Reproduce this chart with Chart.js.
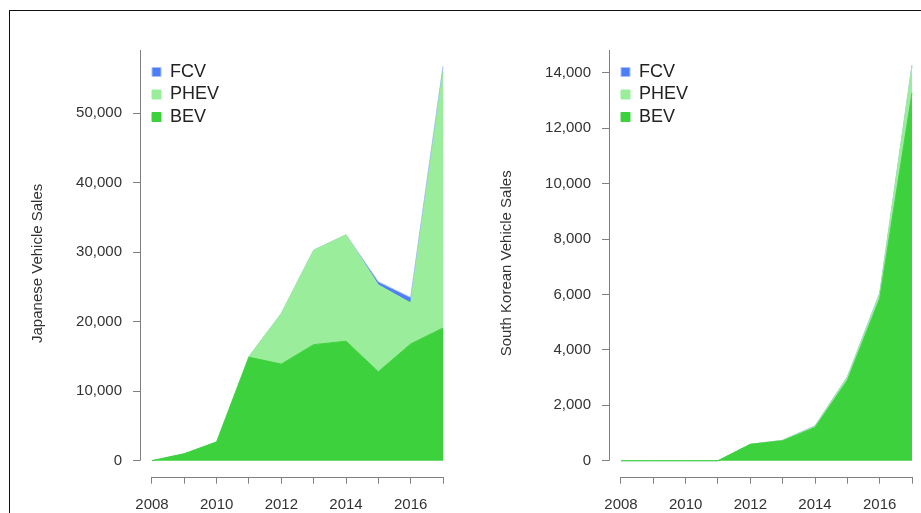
<!DOCTYPE html>
<html>
<head>
<meta charset="utf-8">
<script src="https://cdn.jsdelivr.net/npm/chart.js@4.4.0/dist/chart.umd.min.js"></script>
<style>
  html, body { margin: 0; padding: 0; background: #fff; overflow: hidden; }
  #wrap { position: relative; width: 921px; height: 513px; overflow: hidden; }
  #frame { position: absolute; left: 9px; top: 10px; width: 1000px; height: 600px;
           border-left: 1px solid #111; border-top: 1px solid #111; }
  canvas { position: absolute; top: 0; }
  #jp { left: 0; }
  #kr { left: 469px; }
</style>
</head>
<body>
<div id="wrap">
  <div id="frame"></div>
  <canvas id="jp" width="460" height="513"></canvas>
  <canvas id="kr" width="460" height="513"></canvas>
</div>
<script>
// data
var years = [2008, 2009, 2010, 2011, 2012, 2013, 2014, 2015, 2016, 2017];

var jpBEV  = [0, 1000, 2700, 14900, 13900, 16700, 17200, 12800, 16800, 19100];
var jpPHEV = [0, 0, 0, 100, 7300, 13600, 15300, 12500, 5900, 36800];
var jpFCV  = [0, 0, 0, 0, 0, 0, 10, 450, 800, 850];

var krBEV  = [0, 0, 0, 0, 590, 720, 1200, 2900, 5850, 13270];
var krPHEV = [0, 0, 0, 0, 0, 10, 40, 100, 150, 950];
var krFCV  = [0, 0, 0, 0, 0, 10, 20, 30, 50, 60];

var jpTicks = [0, 10000, 20000, 30000, 40000, 50000];
var krTicks = [0, 2000, 4000, 6000, 8000, 10000, 12000, 14000];

var FONT = "'Liberation Sans', Arial, sans-serif";
var AXIS = '#808080';

function pts(arr) {
	return years.map(function (yr, i) { return { x: yr, y: arr[i] }; });
}

// axis lines the way R draws them: y from top down to 0, x from first to last year
var axisLines = {
	id: 'axisLines',
	afterLayout: function (chart) {
		// the chartArea legend sits at top 0, push it into the plot corner
		var lg = chart.legend;
		lg.left += 7.5; lg.right += 7.5;
		lg.top += 58.5; lg.bottom += 58.5;
	},
	afterDraw: function (chart) {
		var ctx = chart.ctx, area = chart.chartArea;
		var xs = chart.scales.x, ys = chart.scales.y;
		var xl = Math.round(area.left) + 0.5;
		var yb = Math.round(area.bottom) + 0.5;
		ctx.save();
		ctx.strokeStyle = AXIS;
		ctx.lineWidth = 1;
		ctx.beginPath();
		ctx.moveTo(xl, area.top);
		ctx.lineTo(xl, ys.getPixelForValue(0));
		ctx.moveTo(xs.getPixelForValue(years[0]), yb);
		ctx.lineTo(xs.getPixelForValue(years[years.length - 1]), yb);
		ctx.stroke();
		ctx.restore();
	}
};

function makeChart(id, title, bev, phev, fcv, ticks, ymin, ymax) {
	return new Chart(document.getElementById(id), {
		type: 'line',
		data: {
			datasets: [
				{ label: 'BEV', data: pts(bev), fill: 'origin',
				  backgroundColor: '#3ed13e', borderColor: '#3ed13e', borderWidth: 1 },
				{ label: 'PHEV', data: pts(phev), fill: '-1',
				  backgroundColor: '#9aed9a', borderColor: '#9aed9a', borderWidth: 1 },
				{ label: 'FCV', data: pts(fcv), fill: '-1',
				  backgroundColor: '#4d7ef7', borderColor: '#a9c2f7', borderWidth: 1 }
			]
		},
		options: {
			responsive: false,
			animation: false,
			elements: { point: { radius: 0 }, line: { tension: 0 } },
			layout: { padding: { top: 50, right: 5, left: 0, bottom: 0 } },
			plugins: {
				tooltip: { enabled: false },
				legend: {
					position: 'chartArea',
					align: 'start',
					reverse: true,
					labels: {
						boxWidth: 9, boxHeight: 9, padding: 4.5,
						color: '#222',
						font: { family: FONT, size: 18 }
					}
				}
			},
			scales: {
				x: {
					type: 'linear',
					min: 2007.629, max: 2017.371,
					afterFit: function (s) { s.height = 36.3; },
					afterBuildTicks: function (s) {
						s.ticks = years.map(function (v) { return { value: v }; });
					},
					border: { display: false },
					grid: { drawOnChartArea: false, tickLength: 7, color: AXIS },
					ticks: {
						maxRotation: 0, autoSkip: false,
						padding: 12, color: '#333',
						font: { family: FONT, size: 15 },
						callback: function (v) { return v % 2 === 0 ? String(v) : ''; }
					}
				},
				y: {
					stacked: true,
					min: ymin, max: ymax,
					afterFit: function (s) { s.width = 140; },
					afterBuildTicks: function (s) {
						s.ticks = ticks.map(function (v) { return { value: v }; });
					},
					border: { display: false },
					grid: { drawOnChartArea: false, tickLength: 7, color: AXIS },
					title: {
						display: true, text: title, color: '#333',
						padding: { top: 29, bottom: 0 },
						font: { family: FONT, size: 15 }
					},
					ticks: {
						padding: 11, color: '#333',
						font: { family: FONT, size: 15 },
						callback: function (v) { return v.toLocaleString('en-US'); }
					}
				}
			}
		},
		plugins: [axisLines]
	});
}

makeChart('jp', 'Japanese Vehicle Sales', jpBEV, jpPHEV, jpFCV, jpTicks, -2300, 59100);
makeChart('kr', 'South Korean Vehicle Sales', krBEV, krPHEV, krFCV, krTicks, -577, 14820);
</script>
</body>
</html>
